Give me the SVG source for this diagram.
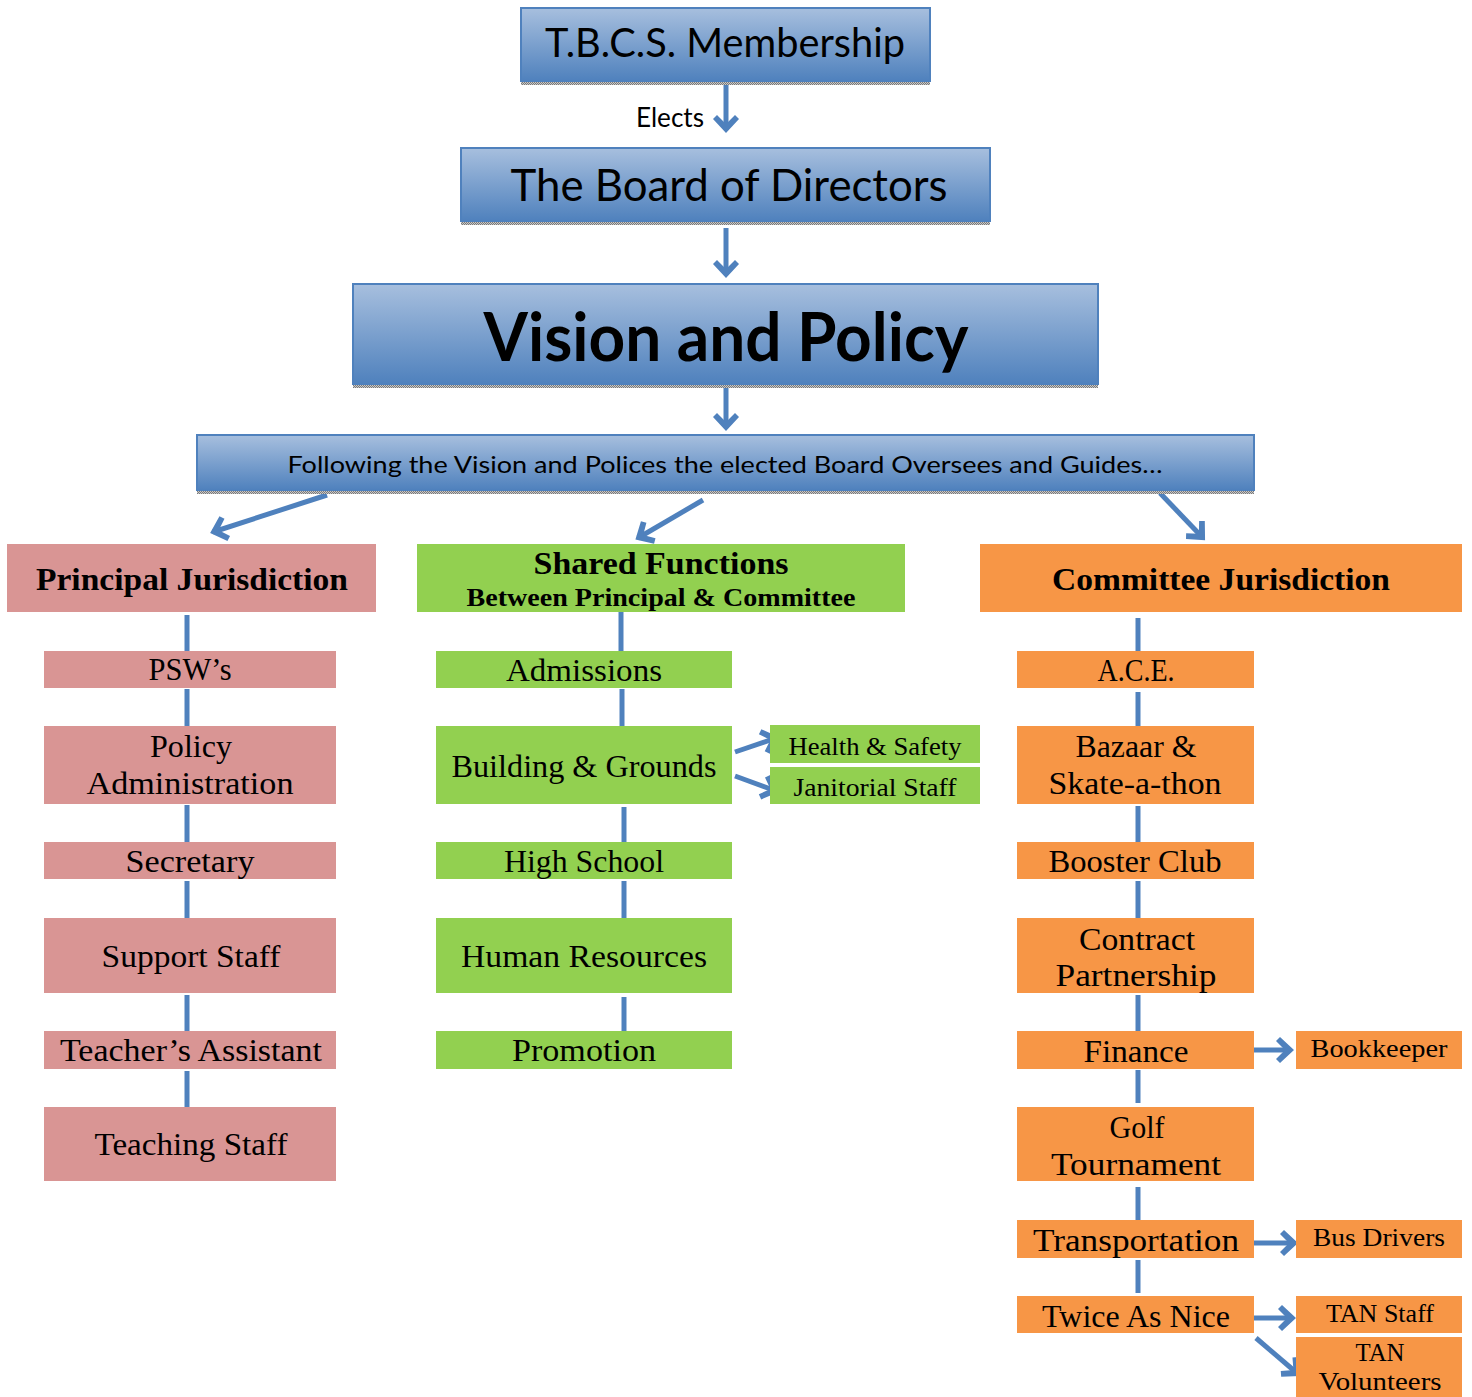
<svg xmlns="http://www.w3.org/2000/svg" width="1472" height="1397" viewBox="0 0 1472 1397">
<style>
.blue{fill:url(#bg);stroke:#4F81BD;stroke-width:2}
.shadow{fill:url(#dots)}
.pink{fill:#D99594}
.green{fill:#92D050}
.orange{fill:#F79646}
.sans{font-family:Lato,"Open Sans","Liberation Sans",sans-serif;fill:#000;text-anchor:middle}
.serif{font-family:"Liberation Serif","DejaVu Serif",serif;fill:#000;text-anchor:middle}
.b{font-weight:bold}
.t{font-size:31px}
.s{font-size:26px}
.conn{stroke:#4F81BD;stroke-width:5;fill:none}
.arr{stroke:#4F81BD;stroke-width:5;fill:none;marker-end:url(#head)}
</style>
<defs>
<linearGradient id="bg" x1="0" y1="0" x2="0" y2="1">
<stop offset="0" stop-color="#A7BFDE"/>
<stop offset="1" stop-color="#4F81BD"/>
</linearGradient>
<pattern id="dots" width="2" height="2" patternUnits="userSpaceOnUse">
<rect width="2" height="2" fill="#c8c8c8"/>
<rect width="1" height="1" fill="#7a7a7a"/>
<rect x="1" y="1" width="1" height="1" fill="#7a7a7a"/>
</pattern>
<marker id="head" markerUnits="userSpaceOnUse" viewBox="-20 -16 26 32" markerWidth="26" markerHeight="32" refX="0" refY="0" orient="auto">
<path d="M3,0 L-11,-13 L-15,-9 L-6,0 L-15,9 L-11,13 Z" fill="#4F81BD"/>
</marker>
</defs>

<g id="connectors">
<line class="arr" x1="726" y1="83" x2="726" y2="130"/>
<line class="arr" x1="726" y1="228" x2="726" y2="275"/>
<line class="arr" x1="726" y1="387" x2="726" y2="428"/>
<line class="arr" x1="327" y1="495" x2="213" y2="532"/>
<line class="arr" x1="703" y1="500" x2="638" y2="538"/>
<line class="arr" x1="1160" y1="493" x2="1203" y2="538"/>
<line class="conn" x1="187" y1="615" x2="187" y2="651"/>
<line class="conn" x1="187" y1="689" x2="187" y2="726"/>
<line class="conn" x1="187" y1="805" x2="187" y2="842"/>
<line class="conn" x1="187" y1="881" x2="187" y2="918"/>
<line class="conn" x1="187" y1="995" x2="187" y2="1031"/>
<line class="conn" x1="187" y1="1071" x2="187" y2="1109"/>
<line class="conn" x1="621" y1="612" x2="621" y2="651"/>
<line class="conn" x1="622" y1="689" x2="622" y2="726"/>
<line class="conn" x1="624" y1="807" x2="624" y2="842"/>
<line class="conn" x1="624" y1="881" x2="624" y2="918"/>
<line class="conn" x1="624" y1="997" x2="624" y2="1031"/>
<line class="arr" x1="735" y1="752" x2="776" y2="738"/>
<line class="arr" x1="735" y1="776" x2="776" y2="791"/>
<line class="conn" x1="1138" y1="618" x2="1138" y2="651"/>
<line class="conn" x1="1138" y1="692" x2="1138" y2="726"/>
<line class="conn" x1="1138" y1="806" x2="1138" y2="842"/>
<line class="conn" x1="1138" y1="881" x2="1138" y2="918"/>
<line class="conn" x1="1138" y1="995" x2="1138" y2="1031"/>
<line class="conn" x1="1138" y1="1070" x2="1138" y2="1103"/>
<line class="conn" x1="1138" y1="1187" x2="1138" y2="1220"/>
<line class="conn" x1="1138" y1="1260" x2="1138" y2="1293"/>
<line class="arr" x1="1246" y1="1050" x2="1291" y2="1050"/>
<line class="arr" x1="1250" y1="1243" x2="1295" y2="1243"/>
<line class="arr" x1="1248" y1="1318" x2="1293" y2="1318"/>
<line class="arr" x1="1256" y1="1338" x2="1298" y2="1374"/>
</g>

<g id="membership">
<rect class="shadow" x="521" y="81" width="409" height="4"/>
<rect class="blue" x="521" y="8" width="409" height="73"/>
<text class="sans" x="725" y="57" font-size="40" textLength="360" lengthAdjust="spacingAndGlyphs">T.B.C.S. Membership</text>
</g>
<g id="elects-label">
<text class="sans" x="670" y="127" font-size="26" textLength="68" lengthAdjust="spacingAndGlyphs">Elects</text>
</g>
<g id="board">
<rect class="shadow" x="461" y="221" width="529" height="4"/>
<rect class="blue" x="461" y="148" width="529" height="73"/>
<text class="sans" x="729" y="201" font-size="45" textLength="437" lengthAdjust="spacingAndGlyphs">The Board of Directors</text>
</g>
<g id="vision">
<rect class="shadow" x="353" y="384" width="745" height="4"/>
<rect class="blue" x="353" y="284" width="745" height="100"/>
<text class="sans b" x="726" y="361" font-size="66" textLength="485" lengthAdjust="spacingAndGlyphs">Vision and Policy</text>
</g>
<g id="following">
<rect class="shadow" x="197" y="490" width="1057" height="4"/>
<rect class="blue" x="197" y="435" width="1057" height="55"/>
<text class="sans" x="725" y="473" font-size="24" textLength="875" lengthAdjust="spacingAndGlyphs">Following the Vision and Polices the elected Board Oversees and Guides…</text>
</g>

<g id="principal">
<rect class="pink" x="7" y="544" width="369" height="68"/>
<text class="serif b" x="192" y="590" font-size="32" textLength="312" lengthAdjust="spacingAndGlyphs">Principal Jurisdiction</text>
</g>
<g id="shared">
<rect class="green" x="417" y="544" width="488" height="68"/>
<text class="serif b" x="661" y="574" font-size="31" textLength="255" lengthAdjust="spacingAndGlyphs">Shared Functions</text>
<text class="serif b" x="661" y="606" font-size="25" textLength="389" lengthAdjust="spacingAndGlyphs">Between Principal &amp; Committee</text>
</g>
<g id="committee">
<rect class="orange" x="980" y="544" width="482" height="68"/>
<text class="serif b" x="1221" y="590" font-size="32" textLength="338" lengthAdjust="spacingAndGlyphs">Committee Jurisdiction</text>
</g>

<g id="psws">
<rect class="pink" x="44" y="651" width="292" height="37"/>
<text class="serif t" x="190" y="680" textLength="83" lengthAdjust="spacingAndGlyphs">PSW’s</text>
</g>
<g id="policy-admin">
<rect class="pink" x="44" y="726" width="292" height="78"/>
<text class="serif t" x="191" y="757" textLength="82" lengthAdjust="spacingAndGlyphs">Policy</text>
<text class="serif t" x="190" y="794" textLength="207" lengthAdjust="spacingAndGlyphs">Administration</text>
</g>
<g id="secretary">
<rect class="pink" x="44" y="842" width="292" height="37"/>
<text class="serif t" x="190" y="872" textLength="129" lengthAdjust="spacingAndGlyphs">Secretary</text>
</g>
<g id="support-staff">
<rect class="pink" x="44" y="918" width="292" height="75"/>
<text class="serif t" x="191" y="967" textLength="179" lengthAdjust="spacingAndGlyphs">Support Staff</text>
</g>
<g id="teachers-assistant">
<rect class="pink" x="44" y="1031" width="292" height="38"/>
<text class="serif t" x="191" y="1061" textLength="262" lengthAdjust="spacingAndGlyphs">Teacher’s Assistant</text>
</g>
<g id="teaching-staff">
<rect class="pink" x="44" y="1107" width="292" height="74"/>
<text class="serif t" x="191" y="1155" textLength="193" lengthAdjust="spacingAndGlyphs">Teaching Staff</text>
</g>

<g id="admissions">
<rect class="green" x="436" y="651" width="296" height="37"/>
<text class="serif t" x="584" y="681" textLength="156" lengthAdjust="spacingAndGlyphs">Admissions</text>
</g>
<g id="building">
<rect class="green" x="436" y="726" width="296" height="78"/>
<text class="serif t" x="584" y="777" textLength="265" lengthAdjust="spacingAndGlyphs">Building &amp; Grounds</text>
</g>
<g id="health-safety">
<rect class="green" x="770" y="725" width="210" height="38"/>
<text class="serif s" x="875" y="755" textLength="173" lengthAdjust="spacingAndGlyphs">Health &amp; Safety</text>
</g>
<g id="janitorial">
<rect class="green" x="770" y="767" width="210" height="37"/>
<text class="serif s" x="875" y="796" textLength="163" lengthAdjust="spacingAndGlyphs">Janitorial Staff</text>
</g>
<g id="high-school">
<rect class="green" x="436" y="842" width="296" height="37"/>
<text class="serif t" x="584" y="872" textLength="160" lengthAdjust="spacingAndGlyphs">High School</text>
</g>
<g id="human-resources">
<rect class="green" x="436" y="918" width="296" height="75"/>
<text class="serif t" x="584" y="967" textLength="246" lengthAdjust="spacingAndGlyphs">Human Resources</text>
</g>
<g id="promotion">
<rect class="green" x="436" y="1031" width="296" height="38"/>
<text class="serif t" x="584" y="1061" textLength="144" lengthAdjust="spacingAndGlyphs">Promotion</text>
</g>

<g id="ace">
<rect class="orange" x="1017" y="651" width="237" height="37"/>
<text class="serif t" x="1136" y="681" textLength="77" lengthAdjust="spacingAndGlyphs">A.C.E.</text>
</g>
<g id="bazaar">
<rect class="orange" x="1017" y="726" width="237" height="78"/>
<text class="serif t" x="1136" y="757" textLength="121" lengthAdjust="spacingAndGlyphs">Bazaar &amp;</text>
<text class="serif t" x="1135" y="794" textLength="173" lengthAdjust="spacingAndGlyphs">Skate-a-thon</text>
</g>
<g id="booster">
<rect class="orange" x="1017" y="842" width="237" height="37"/>
<text class="serif t" x="1135" y="872" textLength="173" lengthAdjust="spacingAndGlyphs">Booster Club</text>
</g>
<g id="contract">
<rect class="orange" x="1017" y="918" width="237" height="75"/>
<text class="serif t" x="1137" y="950" textLength="116" lengthAdjust="spacingAndGlyphs">Contract</text>
<text class="serif t" x="1136" y="986" textLength="161" lengthAdjust="spacingAndGlyphs">Partnership</text>
</g>
<g id="finance">
<rect class="orange" x="1017" y="1031" width="237" height="38"/>
<text class="serif t" x="1136" y="1062" textLength="105" lengthAdjust="spacingAndGlyphs">Finance</text>
</g>
<g id="bookkeeper">
<rect class="orange" x="1296" y="1031" width="166" height="38"/>
<text class="serif s" x="1379" y="1057" textLength="137" lengthAdjust="spacingAndGlyphs">Bookkeeper</text>
</g>
<g id="golf">
<rect class="orange" x="1017" y="1107" width="237" height="74"/>
<text class="serif t" x="1137" y="1138" textLength="55" lengthAdjust="spacingAndGlyphs">Golf</text>
<text class="serif t" x="1136" y="1175" textLength="170" lengthAdjust="spacingAndGlyphs">Tournament</text>
</g>
<g id="transportation">
<rect class="orange" x="1017" y="1220" width="237" height="38"/>
<text class="serif t" x="1136" y="1251" textLength="206" lengthAdjust="spacingAndGlyphs">Transportation</text>
</g>
<g id="bus-drivers">
<rect class="orange" x="1296" y="1220" width="166" height="38"/>
<text class="serif s" x="1379" y="1246" textLength="132" lengthAdjust="spacingAndGlyphs">Bus Drivers</text>
</g>
<g id="twice-as-nice">
<rect class="orange" x="1017" y="1296" width="237" height="37"/>
<text class="serif t" x="1136" y="1327" textLength="188" lengthAdjust="spacingAndGlyphs">Twice As Nice</text>
</g>
<g id="tan-staff">
<rect class="orange" x="1296" y="1296" width="166" height="37"/>
<text class="serif s" x="1380" y="1322" textLength="108" lengthAdjust="spacingAndGlyphs">TAN Staff</text>
</g>
<g id="tan-volunteers">
<rect class="orange" x="1296" y="1337" width="166" height="60"/>
<text class="serif s" x="1380" y="1361" textLength="49" lengthAdjust="spacingAndGlyphs">TAN</text>
<text class="serif s" x="1380" y="1390" textLength="123" lengthAdjust="spacingAndGlyphs">Volunteers</text>
</g>
</svg>
